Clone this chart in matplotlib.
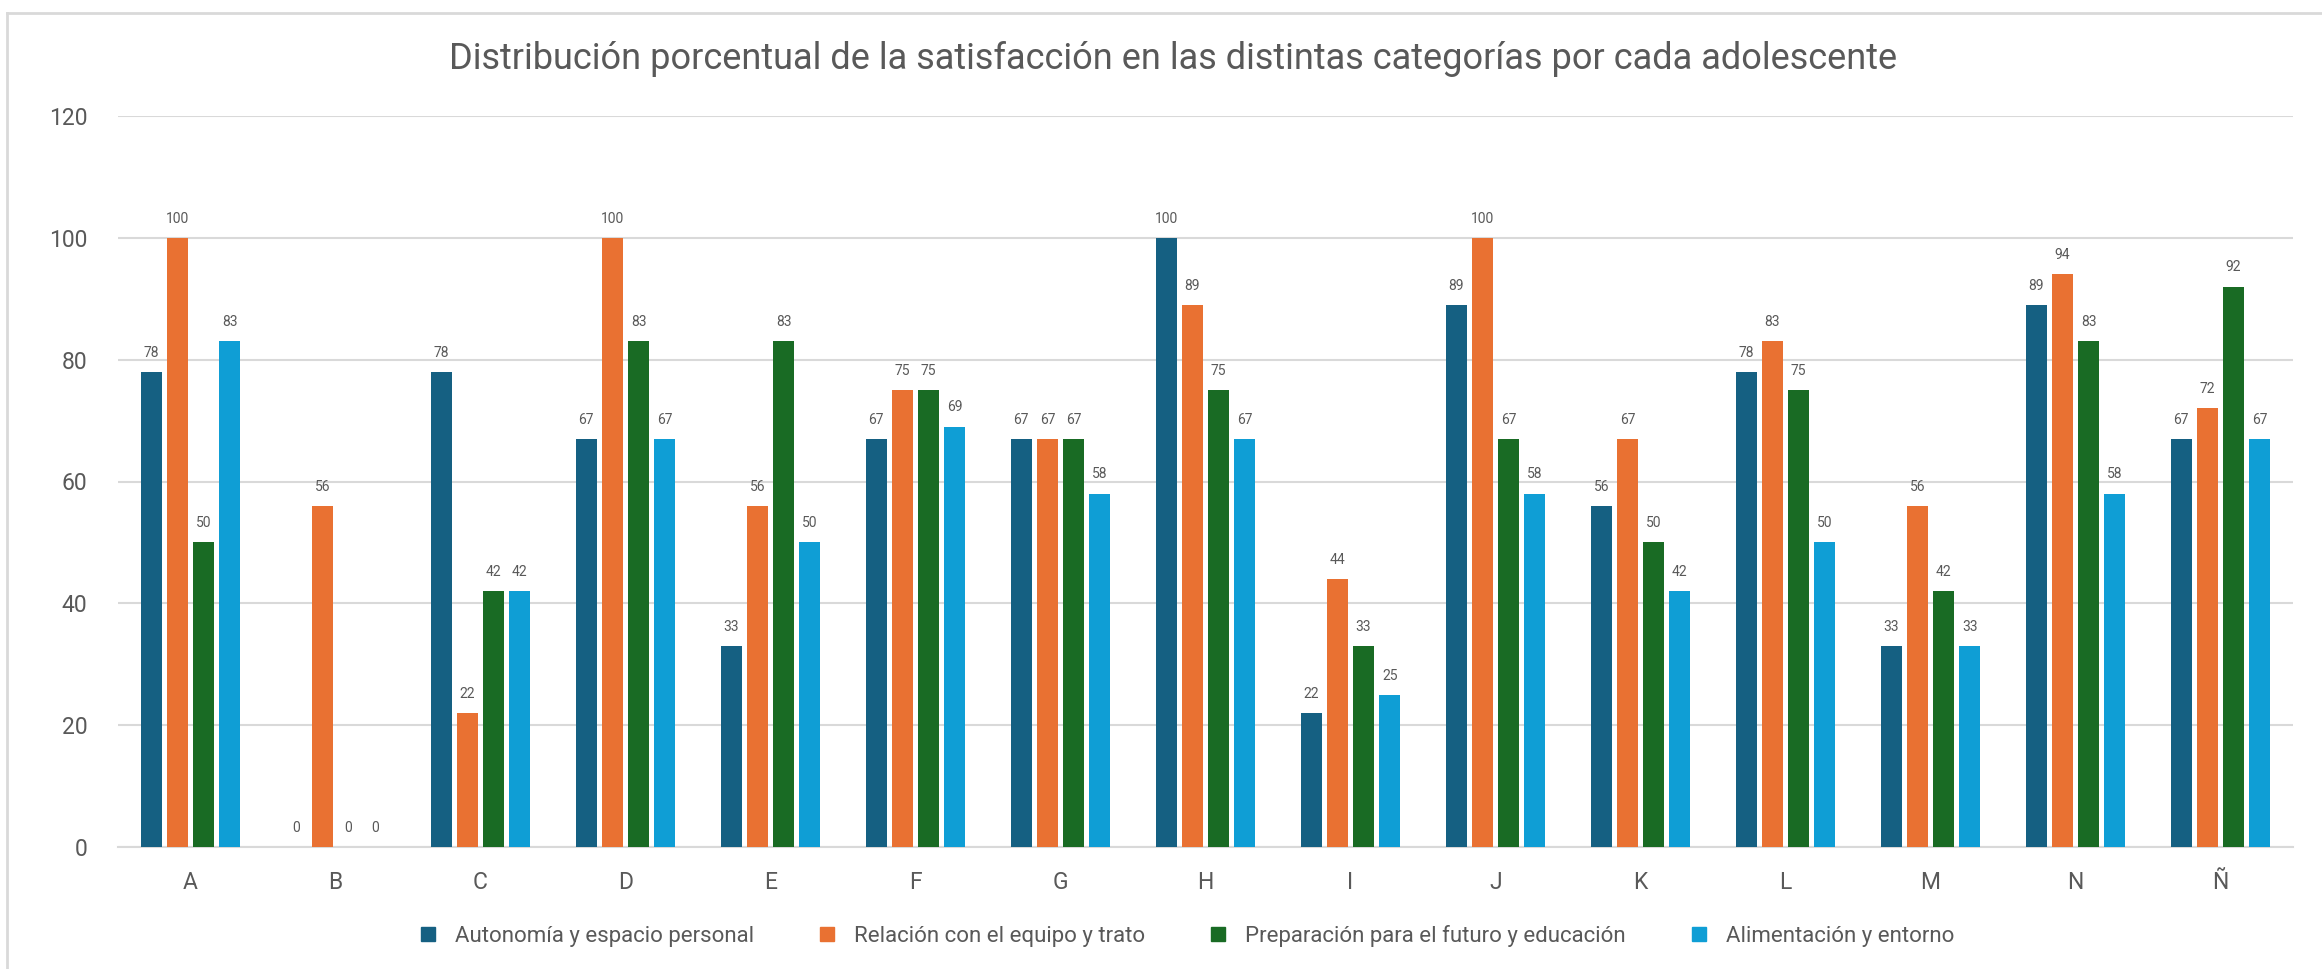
import numpy as np
import matplotlib
matplotlib.use("Agg")
import matplotlib.pyplot as plt
from matplotlib.lines import Line2D

# --- data ---
categories = ['A', 'B', 'C', 'D', 'E', 'F', 'G', 'H', 'I', 'J', 'K', 'L', 'M', 'N', 'Ñ']
autonomia = [78, 0, 78, 67, 33, 67, 67, 100, 22, 89, 56, 78, 33, 89, 67]
relacion = [100, 56, 22, 100, 56, 75, 67, 89, 44, 100, 67, 83, 56, 94, 72]
preparacion = [50, 0, 42, 83, 83, 75, 67, 75, 33, 67, 50, 75, 42, 83, 92]
alimentacion = [83, 0, 42, 67, 50, 69, 58, 67, 25, 58, 42, 50, 33, 58, 67]
series_names = ['Autonomía y espacio personal', 'Relación con el equipo y trato',
                'Preparación para el futuro y educación', 'Alimentación y entorno']
series_colors = ['#156082', '#E97132', '#196B24', '#0F9ED5']
yticks = [0, 20, 40, 60, 80, 100, 120]

TEXT = '#595959'
GRID = '#D9D9D9'
plt.rcParams['font.family'] = ['Roboto', 'DejaVu Sans']

W, H = 2322, 969
fig = plt.figure(figsize=(W / 100, H / 100), dpi=100)
ax = fig.add_axes([118 / W, 1 - 847 / H, (2293 - 118) / W, (847 - 116) / H])

x = np.arange(len(categories))
pitch = 0.18
width = 0.143
all_series = [autonomia, relacion, preparacion, alimentacion]
for i, (vals, name, col) in enumerate(zip(all_series, series_names, series_colors)):
    pos = x + (i - 1.5) * pitch
    ax.bar(pos, vals, width=width, color=col, label=name, zorder=3)
    for px, v in zip(pos, vals):
        ax.text(px, v + 2.0, f"{v}", ha='center', va='bottom', fontsize=10, color=TEXT)

ax.set_xlim(-0.5, len(categories) - 0.5)
ax.set_ylim(0, 120)
ax.set_yticks(yticks)
ax.set_xticks(x)
ax.set_xticklabels(categories)
ax.tick_params(axis='y', length=0, pad=22, labelsize=16.5, labelcolor=TEXT)
ax.tick_params(axis='x', length=0, pad=17, labelsize=16.5, labelcolor=TEXT)
ax.grid(axis='y', color=GRID, linewidth=1.5, zorder=0)
for s in ['top', 'right', 'left']:
    ax.spines[s].set_visible(False)
ax.spines['bottom'].set_color(GRID)
ax.spines['bottom'].set_linewidth(1.5)

fig.text(1173 / W, 1 - 59 / H, 'Distribución porcentual de la satisfacción en las distintas categorías por cada adolescente',
         ha='center', va='center', fontsize=26, color=TEXT)

handles = [Line2D([0], [0], marker='s', linestyle='', markersize=10, color=c) for c in series_colors]
fig.legend(handles, series_names, loc='center', bbox_to_anchor=(1180 / W, 1 - 936 / H), ncol=4,
           frameon=False, fontsize=16, labelcolor=TEXT, handletextpad=0.2, columnspacing=2.3)

# chart frame
fig.add_artist(Line2D([7 / W, 7 / W], [0, 1 - 13 / H], color=GRID, linewidth=2, transform=fig.transFigure))
fig.add_artist(Line2D([7 / W, 1], [1 - 13 / H, 1 - 13 / H], color=GRID, linewidth=2, transform=fig.transFigure))

fig.savefig('out.png', dpi=100, facecolor='white')
